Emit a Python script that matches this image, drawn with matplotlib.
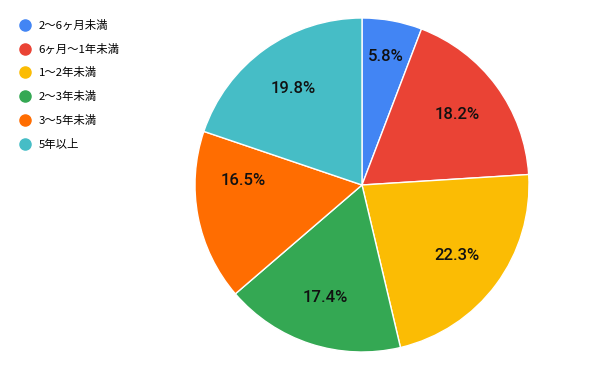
import numpy as np
import matplotlib
matplotlib.use("Agg")
import matplotlib.pyplot as plt
from matplotlib.lines import Line2D

plt.rcParams["font.family"] = ["Noto Sans CJK JP", "DejaVu Sans"]

categories = ["2〜6ヶ月未満", "6ヶ月〜1年未満", "1〜2年未満", "2〜3年未満", "3〜5年未満", "5年以上"]
shares = [5.8, 18.2, 22.3, 17.4, 16.5, 19.8]
colors = ["#4285F4", "#EA4335", "#FBBC04", "#34A853", "#FF6D01", "#46BDC6"]

fig = plt.figure(figsize=(6, 3.71), dpi=100)
r_px = 167
cx, cy = 362, 185
ax = fig.add_axes([(cx - r_px) / 600, (371 - cy - r_px) / 371, 2 * r_px / 600, 2 * r_px / 371])
wedges, texts, autotexts = ax.pie(
    shares, colors=colors, startangle=90, counterclock=False,
    autopct=lambda p: f"{p:.1f}%", pctdistance=0.71,
    wedgeprops={"edgecolor": "white", "linewidth": 1},
    textprops={"fontsize": 12, "family": ["Roboto", "DejaVu Sans"], "fontweight": "medium", "color": "#111111"},
)
# nudge a couple of labels the way the original renderer placed them
x0, y0 = autotexts[0].get_position()
autotexts[0].set_position((x0 * 1.1, y0 * 1.1))
ang = np.deg2rad(178)
autotexts[4].set_position((0.71 * np.cos(ang), 0.71 * np.sin(ang)))
ax.set_xlim(-1, 1)
ax.set_ylim(-1, 1)
ax.set_aspect("equal")

handles = [Line2D([], [], marker="o", linestyle="", markersize=8, markerfacecolor=c, markeredgecolor=c) for c in colors]
fig.legend(handles, categories, loc="upper left", bbox_to_anchor=(0.015, 0.975), frameon=False,
           fontsize=8.2, handletextpad=0.7, labelspacing=1.13, handlelength=1.0)

fig.savefig("out.png", dpi=100)
